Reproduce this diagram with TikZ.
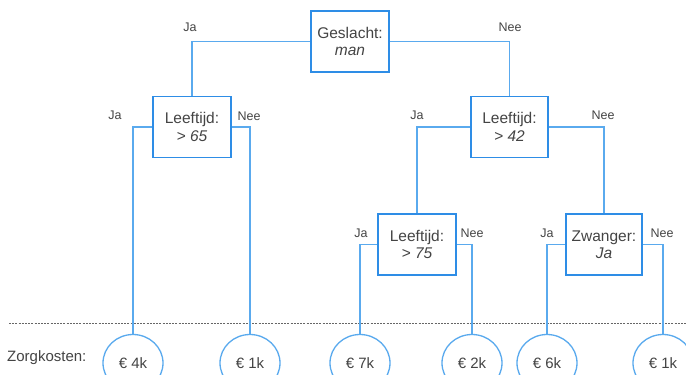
\documentclass[tikz,border=0pt]{standalone}
\usepackage{fontspec}
\setmainfont{Liberation Sans}
\usetikzlibrary{shapes.geometric}
\definecolor{boxblue}{HTML}{2E8DE6}
\definecolor{linkblue}{HTML}{5AAAEE}
\definecolor{txt}{HTML}{444444}
\tikzset{
  decbox/.style={draw=boxblue, line width=1.8pt, fill=white, minimum width=78pt, minimum height=61pt, inner sep=0pt, align=center, text=txt, font=\fontsize{15.5}{17.5}\selectfont},
  leaf/.style={draw=linkblue, line width=1.3pt, fill=white, ellipse, minimum width=60pt, minimum height=57pt, inner sep=0pt, text=txt, font=\fontsize{15}{17}\selectfont},
  link/.style={draw=linkblue, line width=1.3pt},
  lbl/.style={text=txt, font=\fontsize{12.5}{14}\selectfont, inner sep=0pt},
}
\begin{document}
\begin{tikzpicture}[x=1pt,y=-1pt]
\useasboundingbox (0,0) rectangle (686,375);
\clip (0,0) rectangle (686,375);
\fill[white] (0,0) rectangle (686,375);
% dashed separator
\coordinate (dl) at (9,323);
\coordinate (dr) at (686,323);
\draw[gray!80!black, line width=0.8pt, dash pattern=on 2pt off 1.2pt] (dl) -- (dr);
% decision nodes
\node[decbox] (root) at (350,41.5) {Geslacht:\\\textit{man}};
\node[decbox] (l1) at (192,127) {Leeftijd:\\\textit{> 65}};
\node[decbox, minimum width=77pt] (r1) at (509.5,127) {Leeftijd:\\\textit{> 42}};
\node[decbox] (l2) at (417,244.5) {Leeftijd:\\\textit{> 75}};
\node[decbox, minimum width=76pt] (z) at (604,244.5) {Zwanger:\\\textit{Ja}};
% leaves
\node[leaf] (k1) at (133,363) {€ 4k};
\node[leaf] (k2) at (250,363) {€ 1k};
\node[leaf] (k3) at (360,363) {€ 7k};
\node[leaf] (k4) at (472,363) {€ 2k};
\node[leaf] (k5) at (547,363) {€ 6k};
\node[leaf] (k6) at (663,363) {€ 1k};
\node[text=txt, font=\fontsize{15}{17}\selectfont, anchor=west, inner sep=0pt] (zk) at (7,358) {Zorgkosten:};
% connectors
\begin{scope}[on background layer/.style={}]
\draw[link] (root.west) -| (l1.north);
\draw[link] (root.east) -| (r1.north);
\draw[link] (l1.west) -| (k1.north);
\draw[link] (l1.east) -| (k2.north);
\draw[link] (r1.west) -| (l2.north);
\draw[link] (r1.east) -| (z.north);
\draw[link] (l2.west) -| (k3.north);
\draw[link] (l2.east) -| (k4.north);
\draw[link] (z.west) -| (k5.north);
\draw[link] (z.east) -| (k6.north);
\end{scope}
% labels
\node[lbl] (a1) at (190,27) {Ja};
\node[lbl] (a2) at (510,27) {Nee};
\node[lbl] (a3) at (115,115) {Ja};
\node[lbl] (a4) at (249,116) {Nee};
\node[lbl] (a5) at (417,115) {Ja};
\node[lbl] (a6) at (603,115) {Nee};
\node[lbl] (a7) at (361,233) {Ja};
\node[lbl] (a8) at (472,233) {Nee};
\node[lbl] (a9) at (547,233) {Ja};
\node[lbl] (a10) at (662,233) {Nee};
\end{tikzpicture}
\end{document}
